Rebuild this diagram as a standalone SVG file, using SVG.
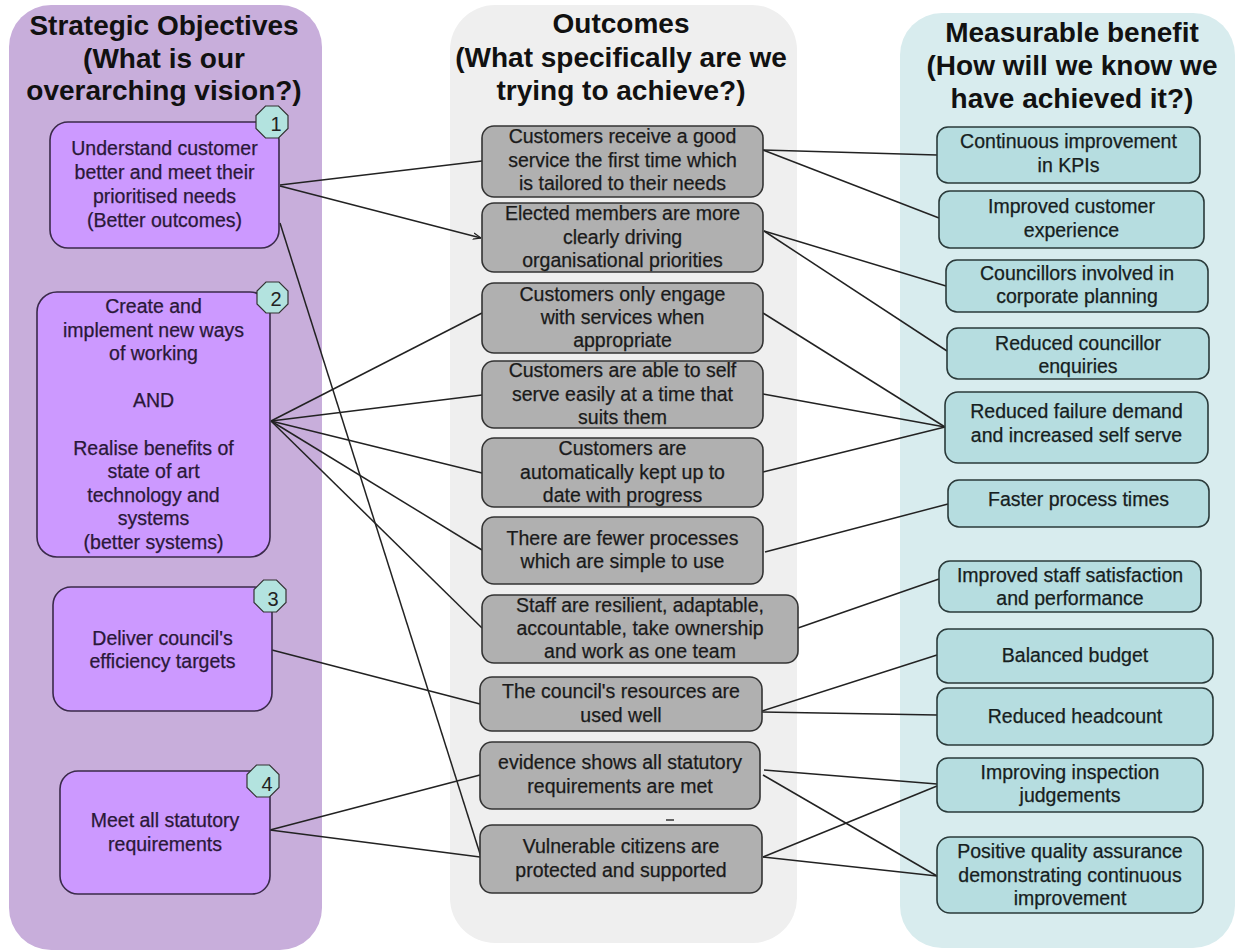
<svg xmlns="http://www.w3.org/2000/svg" width="1235" height="950" viewBox="0 0 1235 950">
<defs>
<style>
.title{font-family:"Liberation Sans",Arial,sans-serif;font-weight:bold;font-size:28px;fill:#111;text-anchor:middle}
.t{font-family:"Liberation Sans",Arial,sans-serif;font-size:19.5px;text-anchor:middle;stroke-width:0.25}
.lt{fill:#2a1838;stroke:#2a1838}
.mt{fill:#1a1a1a;stroke:#1a1a1a}
.rt{fill:#162020;stroke:#162020}
.ln{fill:#cc99ff;stroke:#3a2a4a;stroke-width:1.6}
.mn{fill:#b0b0b0;stroke:#333;stroke-width:1.6}
.rn{fill:#b6dde0;stroke:#2a3a3a;stroke-width:1.6}
.badge{fill:#b3e3df;stroke:#333;stroke-width:1.2}
.bn{font-family:"Liberation Sans",Arial,sans-serif;font-size:20px;fill:#222;text-anchor:middle}
.c{stroke:#222;stroke-width:1.5;fill:none}
</style>
<marker id="arr" viewBox="0 0 10 10" refX="10" refY="5" markerWidth="8" markerHeight="8" orient="auto" markerUnits="userSpaceOnUse">
<path d="M0,1 L10,5 L0,9" fill="none" stroke="#222" stroke-width="1.5"/>
</marker>
</defs>
<rect width="1235" height="950" fill="#ffffff"/>
<g id="columns">
<rect x="9" y="5" width="313" height="945" rx="42" fill="#c8aedb"/>
<rect x="450" y="5" width="347" height="938" rx="45" fill="#efefef"/>
<rect x="900" y="13" width="335" height="935" rx="42" fill="#d8ecee"/>
</g>
<g id="titles">
<text class="title" x="164" y="35">Strategic Objectives</text>
<text class="title" x="164" y="68">(What is our</text>
<text class="title" x="164" y="100">overarching vision?)</text>
<text class="title" x="621" y="33">Outcomes</text>
<text class="title" x="621" y="67">(What specifically are we</text>
<text class="title" x="621" y="100">trying to achieve?)</text>
<text class="title" x="1072" y="42">Measurable benefit</text>
<text class="title" x="1072" y="75">(How will we know we</text>
<text class="title" x="1072" y="108">have achieved it?)</text>
</g>
<g id="connectors">
<line class="c" x1="280" y1="185" x2="482" y2="161"/>
<line class="c" x1="280" y1="186" x2="481" y2="238" marker-end="url(#arr)"/>
<line class="c" x1="280" y1="223" x2="481" y2="857"/>
<line class="c" x1="271" y1="421" x2="482" y2="313"/>
<line class="c" x1="271" y1="421" x2="482" y2="395"/>
<line class="c" x1="271" y1="421" x2="482" y2="473"/>
<line class="c" x1="271" y1="421" x2="482" y2="550"/>
<line class="c" x1="271" y1="421" x2="482" y2="628"/>
<line class="c" x1="272" y1="650" x2="480" y2="704"/>
<line class="c" x1="270" y1="830" x2="480" y2="775"/>
<line class="c" x1="270" y1="830" x2="480" y2="857"/>
<line class="c" x1="763" y1="150" x2="937" y2="155"/>
<line class="c" x1="763" y1="150" x2="939" y2="218"/>
<line class="c" x1="764" y1="231" x2="946" y2="286"/>
<line class="c" x1="764" y1="231" x2="947" y2="351"/>
<line class="c" x1="763" y1="313" x2="945" y2="427"/>
<line class="c" x1="763" y1="394" x2="945" y2="427"/>
<line class="c" x1="763" y1="472" x2="945" y2="427"/>
<line class="c" x1="765" y1="552" x2="948" y2="504"/>
<line class="c" x1="798" y1="628" x2="939" y2="579"/>
<line class="c" x1="762" y1="711" x2="937" y2="655"/>
<line class="c" x1="762" y1="712" x2="937" y2="715"/>
<line class="c" x1="764" y1="770" x2="937" y2="784"/>
<line class="c" x1="763" y1="775" x2="937" y2="876"/>
<line class="c" x1="763" y1="857" x2="937" y2="786"/>
<line class="c" x1="763" y1="857" x2="937" y2="876"/>
</g>
<g id="obj1">
<rect class="ln" x="50" y="122" width="229" height="126" rx="18"/>
<text class="t lt" x="164.5" y="155">Understand customer</text>
<text class="t lt" x="164.5" y="179">better and meet their</text>
<text class="t lt" x="164.5" y="203">prioritised needs</text>
<text class="t lt" x="164.5" y="227">(Better outcomes)</text>
<polygon class="badge" points="265.5,106 278.5,106 288,115.5 288,128.5 278.5,138 265.5,138 256,128.5 256,115.5"/>
<text class="bn" x="276" y="131">1</text>
</g>
<g id="obj2">
<rect class="ln" x="37" y="292" width="233" height="265" rx="20"/>
<text class="t lt" x="153.5" y="313">Create and</text>
<text class="t lt" x="153.5" y="337">implement new ways</text>
<text class="t lt" x="153.5" y="360">of working</text>
<text class="t lt" x="153.5" y="407">AND</text>
<text class="t lt" x="153.5" y="455">Realise benefits of</text>
<text class="t lt" x="153.5" y="478">state of art</text>
<text class="t lt" x="153.5" y="502">technology and</text>
<text class="t lt" x="153.5" y="525">systems</text>
<text class="t lt" x="153.5" y="549">(better systems)</text>
<polygon class="badge" points="266,282 279,282 288,291 288,304 279,313 266,313 257,304 257,291"/>
<text class="bn" x="276" y="306">2</text>
</g>
<g id="obj3">
<rect class="ln" x="53" y="587" width="219" height="124" rx="18"/>
<text class="t lt" x="162.5" y="645">Deliver council's</text>
<text class="t lt" x="162.5" y="668">efficiency targets</text>
<polygon class="badge" points="263.5,580 276.5,580 286,589.5 286,602.5 276.5,612 263.5,612 254,602.5 254,589.5"/>
<text class="bn" x="273" y="606">3</text>
</g>
<g id="obj4">
<rect class="ln" x="60" y="771" width="210" height="123" rx="18"/>
<text class="t lt" x="165" y="827">Meet all statutory</text>
<text class="t lt" x="165" y="851">requirements</text>
<polygon class="badge" points="256.5,765 269.5,765 279,774.5 279,787.5 269.5,797 256.5,797 247,787.5 247,774.5"/>
<text class="bn" x="267" y="791">4</text>
</g>
<g id="out1">
<rect class="mn" x="482" y="126" width="281" height="71" rx="12"/>
<text class="t mt" x="622.5" y="143">Customers receive a good</text>
<text class="t mt" x="622.5" y="167">service the first time which</text>
<text class="t mt" x="622.5" y="190">is tailored to their needs</text>
</g>
<g id="out2">
<rect class="mn" x="482" y="203" width="281" height="69" rx="12"/>
<text class="t mt" x="622.5" y="220">Elected members are more</text>
<text class="t mt" x="622.5" y="244">clearly driving</text>
<text class="t mt" x="622.5" y="267">organisational priorities</text>
</g>
<g id="out3">
<rect class="mn" x="482" y="283" width="281" height="70" rx="12"/>
<text class="t mt" x="622.5" y="301">Customers only engage</text>
<text class="t mt" x="622.5" y="324">with services when</text>
<text class="t mt" x="622.5" y="347">appropriate</text>
</g>
<g id="out4">
<rect class="mn" x="482" y="361" width="281" height="67" rx="12"/>
<text class="t mt" x="622.5" y="377">Customers are able to self</text>
<text class="t mt" x="622.5" y="401">serve easily at a time that</text>
<text class="t mt" x="622.5" y="424">suits them</text>
</g>
<g id="out5">
<rect class="mn" x="482" y="438" width="281" height="69" rx="12"/>
<text class="t mt" x="622.5" y="455">Customers are</text>
<text class="t mt" x="622.5" y="479">automatically kept up to</text>
<text class="t mt" x="622.5" y="502">date with progress</text>
</g>
<g id="out6">
<rect class="mn" x="482" y="517" width="281" height="67" rx="12"/>
<text class="t mt" x="622.5" y="545">There are fewer processes</text>
<text class="t mt" x="622.5" y="568">which are simple to use</text>
</g>
<g id="out7">
<rect class="mn" x="482" y="595" width="316" height="68" rx="12"/>
<text class="t mt" x="640" y="612">Staff are resilient, adaptable,</text>
<text class="t mt" x="640" y="635">accountable, take ownership</text>
<text class="t mt" x="640" y="658">and work as one team</text>
</g>
<g id="out8">
<rect class="mn" x="480" y="677" width="282" height="54" rx="12"/>
<text class="t mt" x="621" y="698">The council's resources are</text>
<text class="t mt" x="621" y="722">used well</text>
</g>
<g id="out9">
<rect class="mn" x="480" y="742" width="280" height="67" rx="12"/>
<text class="t mt" x="620" y="769">evidence shows all statutory</text>
<text class="t mt" x="620" y="793">requirements are met</text>
<line x1="666" y1="820" x2="674" y2="820" stroke="#333" stroke-width="1.5"/>
</g>
<g id="out10">
<rect class="mn" x="480" y="825" width="282" height="68" rx="12"/>
<text class="t mt" x="621" y="853">Vulnerable citizens are</text>
<text class="t mt" x="621" y="877">protected and supported</text>
</g>
<g id="ben1">
<rect class="rn" x="937" y="127" width="263" height="56" rx="11"/>
<text class="t rt" x="1068.5" y="148">Continuous improvement</text>
<text class="t rt" x="1068.5" y="172">in KPIs</text>
</g>
<g id="ben2">
<rect class="rn" x="939" y="191" width="265" height="57" rx="11"/>
<text class="t rt" x="1071.5" y="213">Improved customer</text>
<text class="t rt" x="1071.5" y="237">experience</text>
</g>
<g id="ben3">
<rect class="rn" x="946" y="260" width="262" height="52" rx="11"/>
<text class="t rt" x="1077" y="280">Councillors involved in</text>
<text class="t rt" x="1077" y="303">corporate planning</text>
</g>
<g id="ben4">
<rect class="rn" x="947" y="328" width="262" height="51" rx="11"/>
<text class="t rt" x="1078" y="350">Reduced councillor</text>
<text class="t rt" x="1078" y="373">enquiries</text>
</g>
<g id="ben5">
<rect class="rn" x="945" y="392" width="263" height="71" rx="13"/>
<text class="t rt" x="1076.5" y="418">Reduced failure demand</text>
<text class="t rt" x="1076.5" y="442">and increased self serve</text>
</g>
<g id="ben6">
<rect class="rn" x="948" y="480" width="261" height="47" rx="11"/>
<text class="t rt" x="1078.5" y="506">Faster process times</text>
</g>
<g id="ben7">
<rect class="rn" x="939" y="561" width="262" height="51" rx="11"/>
<text class="t rt" x="1070" y="582">Improved staff satisfaction</text>
<text class="t rt" x="1070" y="605">and performance</text>
</g>
<g id="ben8">
<rect class="rn" x="937" y="629" width="276" height="54" rx="11"/>
<text class="t rt" x="1075" y="662">Balanced budget</text>
</g>
<g id="ben9">
<rect class="rn" x="937" y="688" width="276" height="57" rx="11"/>
<text class="t rt" x="1075" y="723">Reduced headcount</text>
</g>
<g id="ben10">
<rect class="rn" x="937" y="758" width="266" height="54" rx="11"/>
<text class="t rt" x="1070" y="779">Improving inspection</text>
<text class="t rt" x="1070" y="802">judgements</text>
</g>
<g id="ben11">
<rect class="rn" x="937" y="837" width="266" height="76" rx="13"/>
<text class="t rt" x="1070" y="858">Positive quality assurance</text>
<text class="t rt" x="1070" y="882">demonstrating continuous</text>
<text class="t rt" x="1070" y="905">improvement</text>
</g>
</svg>
